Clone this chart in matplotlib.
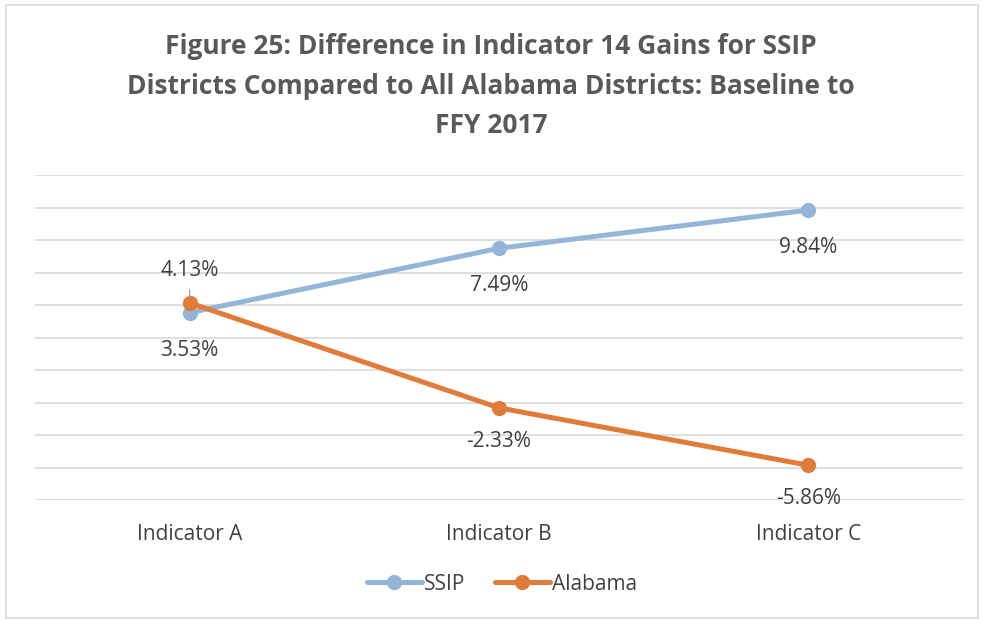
import numpy as np
import matplotlib as mpl
mpl.use('Agg')
import matplotlib.pyplot as plt
from matplotlib.patches import Rectangle

categories = ["Indicator A", "Indicator B", "Indicator C"]
ssip = [3.53, 7.49, 9.84]
alabama = [4.13, -2.33, -5.86]
title = ("Figure 25: Difference in Indicator 14 Gains for SSIP\n"
         "Districts Compared to All Alabama Districts: Baseline to\n"
         "FFY 2017")

BLUE = "#93B5D8"
ORANGE = "#E07B39"
TXT = "#404040"
GRID = "#D9D9D9"

plt.rcParams['font.family'] = ['Open Sans', 'DejaVu Sans']

fig = plt.figure(figsize=(9.82, 6.2), dpi=100)
ax = fig.add_axes([35/982, 1-500/620, (963-35)/982, 325/620])

x = np.arange(len(categories))
ax.plot(x, ssip, color=BLUE, lw=3.6, marker='o', ms=10, label="SSIP",
        solid_capstyle='round', zorder=3)
ax.plot(x, alabama, color=ORANGE, lw=3.6, marker='o', ms=10, label="Alabama",
        solid_capstyle='round', zorder=4)

# data labels
for xi, v in zip(x, ssip):
    ax.annotate(f"{v:.2f}%", (xi, v), xytext=(0, -27), textcoords='offset points',
                ha='center', va='center', fontsize=15, color=TXT)
for xi, v in zip(x, alabama):
    if xi == 0:
        ax.annotate(f"{v:.2f}%", (xi, v), xytext=(0, 23), textcoords='offset points',
                    ha='center', va='center', fontsize=15, color=TXT, zorder=5,
                    arrowprops=dict(arrowstyle='-', color='#A6A6A6', lw=1,
                                    shrinkA=4, shrinkB=4))
    else:
        ax.annotate(f"{v:.2f}%", (xi, v), xytext=(0, -24), textcoords='offset points',
                    ha='center', va='center', fontsize=15, color=TXT)

ax.set_xlim(-0.5, 2.5)
ax.set_ylim(-8, 12)
ax.set_yticks(np.arange(-8, 13, 2))
ax.set_yticklabels([])
ax.set_xticks(x)
ax.set_xticklabels(categories, fontsize=15, color=TXT)
ax.tick_params(axis='both', length=0)
ax.tick_params(axis='x', pad=17)
ax.grid(axis='y', color=GRID, lw=1.2)
ax.set_axisbelow(True)
for s in ax.spines.values():
    s.set_visible(False)

fig.text(0.5, 1-86/620, title, ha='center', va='center', fontsize=19,
         fontweight='bold', color='#595959', linespacing=1.6)

fig.legend(loc='center', bbox_to_anchor=(502/982, 1-584/620), ncol=2, frameon=False,
           fontsize=15, handlelength=2.65, handletextpad=0.1, columnspacing=1.4,
           labelcolor=TXT)

fig.patches.append(Rectangle((6/982, 0.003), (978-6)/982, 1-5/620-0.003,
                             transform=fig.transFigure, fill=False,
                             edgecolor=GRID, lw=1.2))

fig.savefig("out.png", dpi=100)
